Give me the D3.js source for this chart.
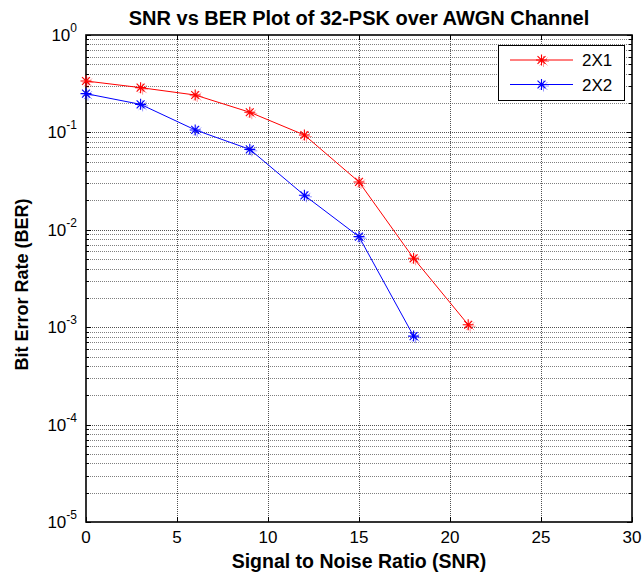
<!DOCTYPE html>
<html>
<head>
<meta charset="utf-8">
<script src="https://cdn.jsdelivr.net/npm/d3@7"></script>
<style>
  html, body { margin: 0; padding: 0; background: #fff; }
  svg { display: block; font-family: "Liberation Sans", Arial, sans-serif; }
</style>
</head>
<body>
<svg id="chart" width="644" height="572"></svg>
<script>
// SNR (dB) sample points and measured bit error rates
const snr = [0, 3, 6, 9, 12, 15, 18, 21];
const ber2x1 = [0.337, 0.288, 0.242, 0.161, 0.094, 0.031, 0.0051, 0.00106];
const snr2x2 = [0, 3, 6, 9, 12, 15, 18];
const ber2x2 = [0.25, 0.194, 0.106, 0.067, 0.0226, 0.0085, 0.00081];

const seriesNames = ["2X1", "2X2"];
const seriesColors = ["#ff0000", "#0000ff"];
const xTicks = [0, 5, 10, 15, 20, 25, 30];
const yExponents = [0, -1, -2, -3, -4, -5];

const titleText = "SNR vs BER Plot of 32-PSK over AWGN Channel";
const xLabel = "Signal to Noise Ratio (SNR)";
const yLabel = "Bit Error Rate (BER)";

const svg = d3.select("#chart");
const m = { left: 86, right: 632, top: 35, bottom: 522 };

const x = d3.scaleLinear().domain([0, 30]).range([m.left, m.right]);
const y = d3.scaleLog().domain([1e-5, 1]).range([m.bottom, m.top]);

// minor decade values 2..9 x 10^k
const minorVals = [];
for (let e = -5; e < 0; e++) {
  for (let k = 2; k <= 9; k++) minorVals.push(k * Math.pow(10, e));
}
const majorVals = yExponents.map(e => Math.pow(10, e));

const grid = svg.append("g").attr("class", "grid");
// horizontal minor grid
grid.selectAll("line.hmin").data(minorVals).join("line")
  .attr("x1", m.left).attr("x2", m.right)
  .attr("y1", d => Math.round(y(d)) + 0.5).attr("y2", d => Math.round(y(d)) + 0.5)
  .attr("stroke", "#555").attr("stroke-width", 1)
  .attr("stroke-dasharray", "1,1").attr("opacity", 0.75);
// horizontal major grid
grid.selectAll("line.hmaj").data(majorVals.slice(1, -1)).join("line")
  .attr("x1", m.left).attr("x2", m.right)
  .attr("y1", d => Math.round(y(d)) + 0.5).attr("y2", d => Math.round(y(d)) + 0.5)
  .attr("stroke", "#333").attr("stroke-width", 1)
  .attr("stroke-dasharray", "1,1").attr("opacity", 0.85);
// vertical grid
grid.selectAll("line.v").data(xTicks.slice(1, -1)).join("line")
  .attr("x1", d => Math.round(x(d)) + 0.5).attr("x2", d => Math.round(x(d)) + 0.5)
  .attr("y1", m.top).attr("y2", m.bottom)
  .attr("stroke", "#333").attr("stroke-width", 1)
  .attr("stroke-dasharray", "1,1").attr("opacity", 0.85);

// axes with inward ticks
const axes = svg.append("g").attr("class", "axes");
const tickLen = 5, minorLen = 3;
xTicks.forEach(t => {
  const px = Math.round(x(t)) + 0.5;
  axes.append("line").attr("x1", px).attr("x2", px).attr("y1", m.bottom).attr("y2", m.bottom - tickLen).attr("stroke", "#000");
  axes.append("line").attr("x1", px).attr("x2", px).attr("y1", m.top).attr("y2", m.top + tickLen).attr("stroke", "#000");
});
majorVals.forEach(v => {
  const py = Math.round(y(v)) + 0.5;
  axes.append("line").attr("x1", m.left).attr("x2", m.left + tickLen).attr("y1", py).attr("y2", py).attr("stroke", "#000");
  axes.append("line").attr("x1", m.right).attr("x2", m.right - tickLen).attr("y1", py).attr("y2", py).attr("stroke", "#000");
});
minorVals.forEach(v => {
  const py = Math.round(y(v)) + 0.5;
  axes.append("line").attr("x1", m.left).attr("x2", m.left + minorLen).attr("y1", py).attr("y2", py).attr("stroke", "#000");
  axes.append("line").attr("x1", m.right).attr("x2", m.right - minorLen).attr("y1", py).attr("y2", py).attr("stroke", "#000");
});
axes.append("rect")
  .attr("x", m.left).attr("y", m.top)
  .attr("width", m.right - m.left).attr("height", m.bottom - m.top)
  .attr("fill", "none").attr("stroke", "#000").attr("stroke-width", 1.6);

// x tick labels
axes.selectAll("text.xt").data(xTicks).join("text")
  .attr("x", d => x(d)).attr("y", 543)
  .attr("text-anchor", "middle")
  .attr("font-size", 17).attr("fill", "#000")
  .text(d => d);

// y tick labels as powers of ten
yExponents.forEach(e => {
  const t = axes.append("text")
    .attr("x", m.left - 9).attr("y", y(Math.pow(10, e)) + 6)
    .attr("text-anchor", "end")
    .attr("font-size", 17).attr("fill", "#000");
  t.append("tspan").text("10");
  t.append("tspan").attr("dy", -9).attr("font-size", 12).text(e);
});

// axis titles and chart title
svg.append("text")
  .attr("x", (m.left + m.right) / 2).attr("y", 568)
  .attr("text-anchor", "middle").attr("font-size", 19.5).attr("font-weight", "bold")
  .text(xLabel);
svg.append("text")
  .attr("transform", `translate(28,${(m.top + m.bottom) / 2 + 6}) rotate(-90)`)
  .attr("text-anchor", "middle").attr("font-size", 18).attr("font-weight", "bold")
  .text(yLabel);
svg.append("text")
  .attr("x", (m.left + m.right) / 2).attr("y", 25)
  .attr("text-anchor", "middle").attr("font-size", 20).attr("font-weight", "bold")
  .text(titleText);

// asterisk marker path
function star(cx, cy, r) {
  const d = r * 0.72;
  return `M${cx - r},${cy}L${cx + r},${cy}M${cx},${cy - r}L${cx},${cy + r}` +
         `M${cx - d},${cy - d}L${cx + d},${cy + d}M${cx - d},${cy + d}L${cx + d},${cy - d}`;
}

const series = [
  { xs: snr, ys: ber2x1 },
  { xs: snr2x2, ys: ber2x2 }
];
const line = d3.line().x(d => x(d[0])).y(d => y(d[1]));
series.forEach((s, i) => {
  const pts = s.xs.map((v, j) => [v, s.ys[j]]);
  const g = svg.append("g");
  g.append("path").datum(pts).attr("d", line)
    .attr("fill", "none").attr("stroke", seriesColors[i]).attr("stroke-width", 1);
  // faint offset copy gives the doubled look of the markers
  g.selectAll("path.ghost").data(pts).join("path").attr("class", "ghost")
    .attr("d", d => star(x(d[0]) + 2, y(d[1]) + 1.5, 5.5))
    .attr("stroke", seriesColors[i]).attr("stroke-width", 1).attr("fill", "none")
    .attr("opacity", 0.4);
  g.selectAll("path.mk").data(pts).join("path").attr("class", "mk")
    .attr("d", d => star(x(d[0]), y(d[1]), 5.5))
    .attr("stroke", seriesColors[i]).attr("stroke-width", 1.1).attr("fill", "none");
});

// legend
const lg = svg.append("g");
lg.append("rect").attr("x", 498.5).attr("y", 45.5).attr("width", 126).attr("height", 55)
  .attr("fill", "#fff").attr("stroke", "#000").attr("stroke-width", 1);
seriesNames.forEach((name, i) => {
  const ly = 60 + i * 24.5;
  lg.append("line").attr("x1", 510).attr("x2", 573).attr("y1", ly).attr("y2", ly)
    .attr("stroke", seriesColors[i]).attr("stroke-width", 1);
  lg.append("path").attr("d", star(543.5, ly + 1.5, 5.5))
    .attr("stroke", seriesColors[i]).attr("stroke-width", 1).attr("fill", "none").attr("opacity", 0.4);
  lg.append("path").attr("d", star(541.5, ly, 5.5))
    .attr("stroke", seriesColors[i]).attr("stroke-width", 1.1).attr("fill", "none");
  lg.append("text").attr("x", 582).attr("y", ly + 6)
    .attr("font-size", 17).attr("fill", "#000").text(name);
});
</script>
</body>
</html>
